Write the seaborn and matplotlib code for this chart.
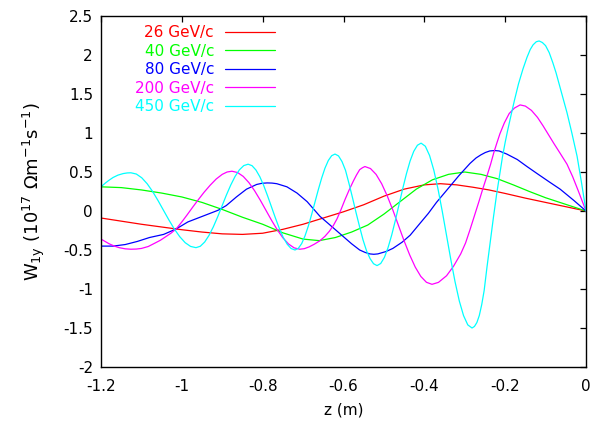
import matplotlib
matplotlib.use("Agg")
import matplotlib.pyplot as plt
import seaborn as sns
import pandas as pd

# ---- data ----
labels = ["26 GeV/c", "40 GeV/c", "80 GeV/c", "200 GeV/c", "450 GeV/c"]
colors = ["#ff0000", "#00ff00", "#0000ff", "#ff00ff", "#00ffff"]

z_26 = [-1.2, -1.15, -1.10, -1.05, -1.0, -0.95, -0.90, -0.85, -0.80, -0.75, -0.70,
        -0.65, -0.60, -0.55, -0.50, -0.45, -0.40, -0.36, -0.32, -0.28, -0.24, -0.20,
        -0.15, -0.10, -0.05, 0.0]
w_26 = [-0.09, -0.13, -0.17, -0.205, -0.24, -0.27, -0.293, -0.30, -0.285, -0.235, -0.17,
        -0.09, -0.01, 0.08, 0.19, 0.28, 0.335, 0.35, 0.335, 0.305, 0.27, 0.225,
        0.165, 0.11, 0.055, 0.0]

z_40 = [-1.2, -1.15, -1.10, -1.05, -1.0, -0.95, -0.90, -0.85, -0.80, -0.75, -0.70,
        -0.66, -0.62, -0.58, -0.54, -0.50, -0.46, -0.42, -0.38, -0.34, -0.30, -0.26,
        -0.22, -0.18, -0.14, -0.10, -0.05, 0.0]
w_40 = [0.31, 0.30, 0.27, 0.23, 0.18, 0.11, 0.02, -0.08, -0.17, -0.28, -0.36,
        -0.38, -0.34, -0.27, -0.18, -0.04, 0.12, 0.28, 0.40, 0.47, 0.50, 0.47,
        0.415, 0.335, 0.25, 0.17, 0.085, 0.0]

z_80 = [-1.2, -1.17, -1.14, -1.11, -1.08, -1.045, -1.014, -0.985, -0.96, -0.935,
        -0.91, -0.89, -0.865, -0.84, -0.815, -0.802, -0.789, -0.777, -0.765, -0.74,
        -0.715, -0.69, -0.658, -0.64, -0.62, -0.60, -0.58, -0.56, -0.547, -0.535,
        -0.525, -0.515, -0.495, -0.478, -0.455, -0.435, -0.411, -0.39, -0.37, -0.344,
        -0.315, -0.287, -0.272, -0.26, -0.249, -0.238, -0.226, -0.215, -0.196, -0.17,
        -0.146, -0.121, -0.09, -0.064, -0.03, 0.0]
w_80 = [-0.45, -0.45, -0.43, -0.39, -0.34, -0.30, -0.23, -0.14, -0.09, -0.04,
        0.01, 0.07, 0.18, 0.28, 0.34, 0.355, 0.36, 0.358, 0.35, 0.31,
        0.23, 0.12, -0.07, -0.15, -0.24, -0.33, -0.42, -0.50, -0.53, -0.55,
        -0.555, -0.55, -0.52, -0.48, -0.40, -0.31, -0.16, -0.03, 0.11, 0.27,
        0.45, 0.61, 0.68, 0.72, 0.75, 0.77, 0.775, 0.77, 0.73, 0.66,
        0.57, 0.48, 0.37, 0.28, 0.135, 0.0]

z_200 = [-1.2, -1.19, -1.18, -1.167, -1.155, -1.14, -1.126, -1.113, -1.10, -1.083,
         -1.066, -1.053, -1.04, -1.027, -1.014, -1.0, -0.987, -0.973, -0.96, -0.945,
         -0.93, -0.915, -0.90, -0.888, -0.876, -0.862, -0.848, -0.834, -0.820, -0.806,
         -0.792, -0.778, -0.764, -0.750, -0.736, -0.722, -0.708, -0.697, -0.685, -0.672,
         -0.658, -0.646, -0.635, -0.625, -0.616, -0.606, -0.596, -0.586, -0.576, -0.568,
         -0.56, -0.553, -0.547, -0.5332, -0.5193, -0.5055, -0.4917, -0.4778, -0.464, -0.4502,
         -0.4363, -0.4225, -0.4087, -0.3948, -0.381, -0.365, -0.345, -0.328, -0.31, -0.298,
         -0.287, -0.276, -0.265, -0.255, -0.245, -0.236, -0.228, -0.22, -0.213, -0.202,
         -0.19, -0.177, -0.163, -0.15, -0.135, -0.12, -0.106, -0.093, -0.08, -0.064,
         -0.047, -0.033, -0.02, -0.01, 0.0]
w_200 = [-0.36, -0.39, -0.42, -0.45, -0.47, -0.485, -0.49, -0.488, -0.48, -0.455,
         -0.41, -0.375, -0.33, -0.285, -0.23, -0.14, -0.05, 0.05, 0.14, 0.24,
         0.33, 0.41, 0.47, 0.50, 0.51, 0.493, 0.443, 0.3635, 0.26, 0.1395,
         0.01, -0.1195, -0.24, -0.3435, -0.423, -0.473, -0.49, -0.483, -0.46, -0.425,
         -0.38, -0.325, -0.26, -0.185, -0.10, 0.02, 0.15, 0.27, 0.38, 0.46,
         0.53, 0.555, 0.57, 0.544, 0.469, 0.349, 0.1925, 0.011, -0.185, -0.381,
         -0.5625, -0.719, -0.839, -0.914, -0.94, -0.915, -0.83, -0.71, -0.55, -0.41,
         -0.24, -0.06, 0.12, 0.29, 0.45, 0.60, 0.75, 0.88, 0.99, 1.13,
         1.25, 1.32, 1.36, 1.345, 1.29, 1.20, 1.09, 0.98, 0.87, 0.74,
         0.60, 0.44, 0.27, 0.135, 0.0]

z_450 = [-1.2, -1.19, -1.18, -1.17, -1.158, -1.145, -1.135, -1.126, -1.1126, -1.0992,
         -1.0857, -1.0723, -1.0589, -1.0455, -1.0321, -1.0187, -1.0052, -0.9918, -0.9784, -0.965,
         -0.9543, -0.9435, -0.9328, -0.922, -0.9113, -0.9005, -0.8898, -0.879, -0.8683, -0.8575,
         -0.8468, -0.836, -0.8263, -0.8167, -0.807, -0.7973, -0.7877, -0.778, -0.7683, -0.7587,
         -0.749, -0.7393, -0.7297, -0.720, -0.7118, -0.7035, -0.6953, -0.687, -0.6788, -0.6705,
         -0.6623, -0.654, -0.6458, -0.6375, -0.6293, -0.621, -0.6123, -0.6037, -0.595, -0.5863,
         -0.5777, -0.569, -0.5603, -0.5517, -0.543, -0.5343, -0.5257, -0.517, -0.5079, -0.4988,
         -0.4898, -0.4807, -0.4716, -0.4625, -0.4534, -0.4443, -0.4353, -0.4262, -0.4171, -0.408,
         -0.3975, -0.387, -0.3765, -0.366, -0.3555, -0.345, -0.3345, -0.324, -0.3135, -0.303,
         -0.2925, -0.282, -0.276, -0.27, -0.264, -0.258, -0.252, -0.245, -0.237, -0.229,
         -0.221, -0.213, -0.2065, -0.20, -0.194, -0.188, -0.177, -0.167, -0.156, -0.146,
         -0.138, -0.131, -0.123, -0.116, -0.108, -0.10, -0.091, -0.082, -0.074, -0.065,
         -0.056, -0.047, -0.041, -0.035, -0.028, -0.022, -0.011, 0.0]
w_450 = [0.31, 0.355, 0.395, 0.43, 0.46, 0.48, 0.488, 0.49, 0.474, 0.426,
         0.349, 0.25, 0.134, 0.01, -0.114, -0.23, -0.329, -0.406, -0.454, -0.47,
         -0.452, -0.398, -0.313, -0.2025, -0.074, 0.065, 0.204, 0.3325, 0.443, 0.528,
         0.582, 0.60, 0.581, 0.526, 0.439, 0.325, 0.192, 0.05, -0.092, -0.225,
         -0.339, -0.426, -0.481, -0.50, -0.479, -0.418, -0.32, -0.1925, -0.044, 0.115,
         0.274, 0.4225, 0.55, 0.648, 0.709, 0.73, 0.706, 0.634, 0.521, 0.35,
         0.17, -0.02, -0.20, -0.37, -0.51, -0.61, -0.676, -0.70, -0.673, -0.595,
         -0.47, -0.3075, -0.118, 0.085, 0.288, 0.4775, 0.64, 0.765, 0.843, 0.87,
         0.83, 0.711, 0.523, 0.2775, -0.008, -0.315, -0.622, -0.9075, -1.153, -1.341,
         -1.46, -1.50, -1.48, -1.43, -1.34, -1.20, -1.02, -0.72, -0.40, -0.08,
         0.22, 0.49, 0.70, 0.88, 1.03, 1.17, 1.42, 1.63, 1.82, 1.97,
         2.07, 2.13, 2.17, 2.18, 2.16, 2.12, 2.03, 1.90, 1.77, 1.60,
         1.43, 1.26, 1.13, 1.00, 0.84, 0.70, 0.36, 0.0]

x_ticks = [-1.2, -1.0, -0.8, -0.6, -0.4, -0.2, 0.0]
x_tick_labels = ["-1.2", "-1", "-0.8", "-0.6", "-0.4", "-0.2", "0"]
y_ticks = [-2.0, -1.5, -1.0, -0.5, 0.0, 0.5, 1.0, 1.5, 2.0, 2.5]
y_tick_labels = ["-2", "-1.5", "-1", "-0.5", "0", "0.5", "1", "1.5", "2", "2.5"]

# ---- build long-form table ----
series = [(labels[0], z_26, w_26), (labels[1], z_40, w_40), (labels[2], z_80, w_80),
          (labels[3], z_200, w_200), (labels[4], z_450, w_450)]
frames = []
for name, zz, ww in series:
    frames.append(pd.DataFrame({"z": zz, "W": ww, "beam": name}))
df = pd.concat(frames, ignore_index=True)

sns.set_theme(style="white")
plt.rcParams["font.family"] = ["DejaVu Sans"]
plt.rcParams["axes.unicode_minus"] = False

fig = plt.figure(figsize=(5.96, 4.23), dpi=100)
ax = fig.add_axes([101 / 596, 1 - 367 / 423, 485 / 596, 351 / 423])

sns.lineplot(data=df, x="z", y="W", hue="beam", hue_order=labels,
             palette=dict(zip(labels, colors)), sort=False, estimator=None,
             linewidth=0.9, ax=ax, legend=True)

ax.set_xlim(-1.2, 0.0)
ax.set_ylim(-2.0, 2.5)
ax.set_xticks(x_ticks)
ax.set_xticklabels(x_tick_labels)
ax.set_yticks(y_ticks)
ax.set_yticklabels(y_tick_labels)
ax.tick_params(axis="both", direction="in", length=4, width=0.9, color="black",
               top=True, right=True, labelsize=11, labelcolor="black")
ax.tick_params(axis="x", pad=8.5)
ax.tick_params(axis="y", pad=5.8)
for sp in ax.spines.values():
    sp.set_color("black")
    sp.set_linewidth(1.0)

ax.set_xlabel("z (m)", fontsize=11, color="black", labelpad=6)
ax.set_ylabel("W$_{\\mathrm{1y}}$ (10$^{17}$ \u03a9m$^{-1}$s$^{-1}$)", fontsize=13,
              color="black", labelpad=12)

handles, lbls = ax.get_legend_handles_labels()
leg = ax.legend(handles, lbls, loc="upper right", bbox_to_anchor=(0.359, 0.973),
                frameon=False, markerfirst=False, fontsize=11, labelcolor="linecolor",
                handlelength=3.3, handletextpad=0.7, labelspacing=0.22,
                borderpad=0, borderaxespad=0)

fig.savefig("out.png", dpi=100)
